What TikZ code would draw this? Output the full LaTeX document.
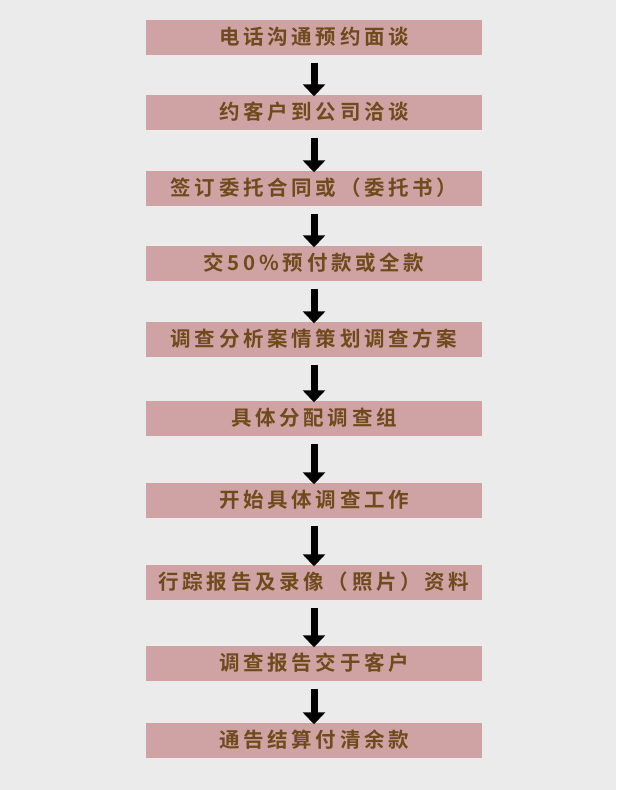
\documentclass[tikz,border=0pt]{standalone}
\usepackage{fontspec}
\newfontfamily\cjk[LetterSpace=18]{Noto Sans CJK SC Bold}
\usetikzlibrary{arrows.meta}
\definecolor{bg}{HTML}{EBEBEB}
\definecolor{boxc}{HTML}{CFA3A3}
\definecolor{txt}{HTML}{6E4A1C}
\tikzset{stepbox/.style={fill=boxc,minimum width=336pt,minimum height=35pt,inner sep=0pt,text=txt,font=\cjk\fontsize{20.5pt}{22pt}\selectfont},
arr/.style={line width=7pt,-{Triangle[width=22pt,length=12pt]}}}
\begin{document}
\begin{tikzpicture}[x=1pt,y=1pt]
\fill[bg] (0,0) rectangle (616,-790);
\useasboundingbox (0,0) rectangle (616,-790);
\foreach \n/\y/\t in {1/37/电话沟通预约面谈,2/112/约客户到公司洽谈,3/188/签订委托合同或（委托书）,4/263/交50\%预付款或全款,5/339/调查分析案情策划调查方案,6/418/具体分配调查组,7/500/开始具体调查工作,8/582/行踪报告及录像（照片）资料,9/663/调查报告交于客户,10/740/通告结算付清余款}
 \node[stepbox] (b\n) at (314,-\y) {\t};
\foreach \a/\b in {1/2,2/3,3/4,4/5,5/6,6/7,7/8,8/9,9/10}
 \draw[arr] ([yshift=-8pt]b\a.south) -- ([yshift=-2pt]b\b.north);
\end{tikzpicture}
\end{document}
